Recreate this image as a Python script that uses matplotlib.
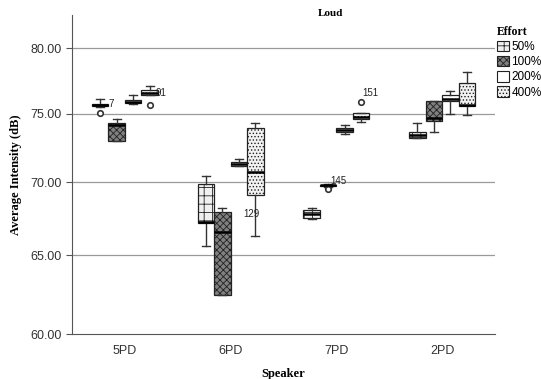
import numpy as np
import matplotlib.pyplot as plt

plt.rcParams['hatch.color'] = '#333333'
plt.rcParams['hatch.linewidth'] = 0.6

speakers = ['5PD', '6PD', '7PD', '2PD']
efforts = ['50%', '100%', '200%', '400%']

# box stats per effort level, one value per speaker (5PD, 6PD, 7PD, 2PD)
q1 = {
    '50%': [75.57, 67.20, 67.55, 73.25],
    '100%': [73.05, 62.50, 69.72, 74.45],
    '200%': [75.80, 71.22, 73.65, 75.95],
    '400%': [76.45, 69.15, 74.62, 75.62],
}
med = {
    '50%': [75.66, 67.25, 67.80, 73.45],
    '100%': [74.15, 66.60, 69.78, 74.70],
    '200%': [75.90, 71.32, 73.85, 76.15],
    '400%': [76.62, 70.75, 74.78, 75.70],
}
q3 = {
    '50%': [75.75, 69.85, 68.10, 73.70],
    '100%': [74.30, 67.95, 69.82, 75.95],
    '200%': [76.05, 71.50, 74.00, 76.45],
    '400%': [76.85, 73.98, 75.10, 77.35],
}
wlo = {
    '50%': [75.50, 65.65, 67.45, 73.25],
    '100%': [73.05, 62.50, 69.65, 73.65],
    '200%': [75.75, 71.20, 73.52, 74.98],
    '400%': [76.45, 66.30, 74.40, 74.92],
}
whi = {
    '50%': [76.10, 70.42, 68.20, 74.30],
    '100%': [74.60, 68.25, 69.90, 75.95],
    '200%': [76.45, 71.70, 74.20, 76.75],
    '400%': [77.12, 74.32, 75.10, 78.22],
}
# outliers: (speaker index, effort, value)
outliers = [(0, '50%', 75.03), (0, '400%', 75.68), (2, '100%', 69.50), (2, '400%', 75.90)]
# case labels printed near outliers: (x, y, text)
case_labels = [(-0.15, 75.72, '7'), (0.29, 76.60, '91'), (1.12, 67.84, '129'),
               (1.94, 70.08, '145'), (2.25, 76.62, '151')]

fills = {'50%': '#f0f0f0', '100%': '#808080', '200%': 'white', '400%': '#f2f2f2'}
hatches = {'50%': '++', '100%': 'xxxxx', '200%': '', '400%': '.....'}
offsets = [-0.234, -0.078, 0.078, 0.234]

# the value axis in the source is slightly stretched towards the bottom
ax_vals = [55, 60, 65, 70, 75, 80, 85]
ax_pix = [-80, 0, 78.5, 151, 219, 284, 349]


def fwd(v):
    return np.interp(v, ax_vals, ax_pix)


def inv(p):
    return np.interp(p, ax_pix, ax_vals)


fig = plt.figure(figsize=(5.41, 3.79), dpi=100)
ax = fig.add_axes([0.133, 0.1187, 0.782, 0.843])
ax.set_yscale('function', functions=(fwd, inv))

for y in [65, 70, 75, 80]:
    ax.axhline(y, color='#9a9a9a', lw=0.9, zorder=0)

for k, e in enumerate(efforts):
    stats = []
    pos = []
    for i in range(len(speakers)):
        fl = [v for (si, ee, v) in outliers if si == i and ee == e]
        stats.append(dict(q1=q1[e][i], med=med[e][i], q3=q3[e][i],
                          whislo=wlo[e][i], whishi=whi[e][i], fliers=fl))
        pos.append(i + offsets[k])
    bp = ax.bxp(stats, positions=pos, widths=0.155, patch_artist=True,
                capwidths=0.075, showfliers=True,
                boxprops=dict(edgecolor='#222222', linewidth=0.9),
                medianprops=dict(color='black', linewidth=1.8),
                whiskerprops=dict(color='#333333', linewidth=1.0),
                capprops=dict(color='#333333', linewidth=1.0),
                flierprops=dict(marker='o', markersize=4, markerfacecolor='white',
                                markeredgecolor='#333333', markeredgewidth=1.2))
    for b in bp['boxes']:
        b.set_facecolor(fills[e])
        b.set_hatch(hatches[e])
    ax.bar([0], [0], color=fills[e], hatch=hatches[e], edgecolor='#222222',
           linewidth=0.8, label=e)

for x, y, t in case_labels:
    ax.text(x, y, t, fontsize=7, color='#222222', family='Liberation Sans',
            va='center', ha='left')

ax.set_xlim(-0.5, 3.5)
ax.set_ylim(60, 82.6)
ax.set_xticks(range(len(speakers)))
ax.set_xticklabels(speakers)
ax.set_yticks([60, 65, 70, 75, 80])
ax.set_yticklabels(['60.00', '65.00', '70.00', '75.00', '80.00'])
ax.minorticks_off()
ax.tick_params(axis='x', length=0, pad=8, labelsize=9, labelcolor='#333333')
ax.tick_params(axis='y', length=4, color='#555555', labelsize=9, labelcolor='#333333')
for lab in ax.get_xticklabels() + ax.get_yticklabels():
    lab.set_family('Liberation Sans')
for s in ['top', 'right']:
    ax.spines[s].set_visible(False)
ax.spines['left'].set_color('#555555')
ax.spines['bottom'].set_color('#555555')

ax.set_ylabel('Average Intensity (dB)', family='Liberation Serif', fontweight='bold',
              fontsize=9, labelpad=6)
ax.set_xlabel('Speaker', family='Liberation Serif', fontweight='bold', fontsize=9,
              labelpad=8)
fig.text(0.61, 0.965, 'Loud', family='Liberation Serif', fontweight='bold',
         fontsize=8, ha='center', va='center')

leg = fig.legend(loc='upper left', bbox_to_anchor=(0.91, 0.945), frameon=False,
                 title='Effort', handlelength=1.0, handleheight=1.0,
                 handletextpad=0.2, labelspacing=0.25, borderaxespad=0,
                 prop={'family': 'Liberation Sans', 'size': 8.5})
leg.get_title().set_fontproperties({'family': 'Liberation Serif', 'weight': 'bold',
                                    'size': 8.5})
leg._legend_box.align = 'left'

fig.savefig('out.png', dpi=100)
